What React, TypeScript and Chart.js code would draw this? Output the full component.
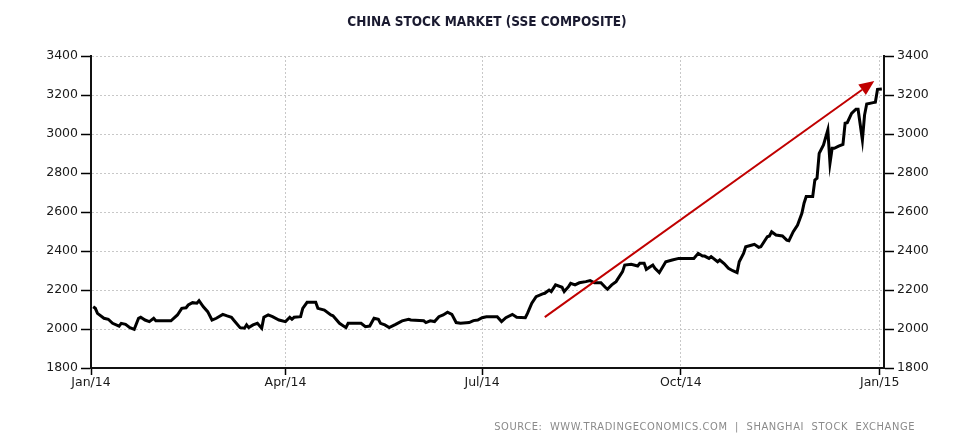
import { useEffect, useRef } from "react";
import { Chart, registerables } from "chart.js";

Chart.register(...registerables);

const TITLE = "CHINA STOCK MARKET (SSE COMPOSITE)";
const SOURCE = "SOURCE:  WWW.TRADINGECONOMICS.COM  |  SHANGHAI  STOCK  EXCHANGE";

// day of year 2014 (0 = Jan 1, 2014)
const tradeDays = [
  1, 2, 3, 6, 8, 10, 13, 14, 16, 18, 20, 22, 23, 25, 27, 29, 30, 32, 37, 40,
  42, 44, 45, 47, 49, 50, 52, 54, 56, 58, 61, 63, 65, 66, 69, 71, 72, 73, 75, 77,
  79, 80, 82, 84, 87, 90, 92, 93, 94, 97, 98, 100, 104, 105, 108, 111, 112, 115, 118, 119,
  125, 127, 129, 131, 133, 134, 136, 138, 141, 144, 147, 148, 154, 155, 157, 159, 161, 163, 165, 167,
  169, 171, 175, 177, 179, 181, 183, 188, 190, 192, 195, 197, 201, 202, 204, 206, 209, 210, 212, 213,
  215, 218, 219, 221, 222, 224, 226, 229, 231, 233, 236, 238, 239, 241, 243, 246, 247, 250, 253, 254,
  256, 257, 260, 261, 263, 266, 269, 272, 279, 281, 283, 284, 286, 287, 290, 291, 293, 295, 297, 299,
  300, 302, 303, 306, 307, 309, 310, 313, 314, 315, 317, 320, 322, 323, 325, 327, 329, 330, 331, 334,
  335, 336, 337, 339, 341, 342, 343, 344, 346, 348, 349, 350, 352, 354, 355, 357, 358, 359, 362, 363,
  364, 366,
];

const closeValues = [
  2114, 2106, 2080, 2055, 2050, 2029, 2015, 2029, 2024, 2007, 1998, 2055, 2060, 2046, 2038, 2055, 2042, 2042, 2042, 2072,
  2106, 2109, 2123, 2135, 2132, 2145, 2114, 2089, 2046, 2055, 2075, 2067, 2060, 2046, 2007, 2004, 2021, 2007, 2021, 2029,
  2004, 2060, 2072, 2063, 2046, 2038, 2060, 2050, 2060, 2063, 2106, 2137, 2137, 2106, 2097, 2072, 2068, 2029, 2007, 2029,
  2029, 2012, 2015, 2055, 2050, 2029, 2021, 2007, 2024, 2042, 2050, 2046, 2042, 2033, 2042, 2038, 2063, 2072, 2086, 2075,
  2033, 2029, 2033, 2043, 2046, 2058, 2063, 2063, 2038, 2058, 2075, 2060, 2058, 2080, 2132, 2166, 2180, 2183, 2200, 2192,
  2226, 2214, 2192, 2217, 2234, 2226, 2237, 2243, 2248, 2237, 2237, 2214, 2204, 2226, 2243, 2294, 2328, 2332, 2323, 2337,
  2337, 2306, 2328, 2311, 2289, 2345, 2354, 2362, 2362, 2388, 2374, 2374, 2362, 2371, 2345, 2354, 2336, 2311, 2299, 2289,
  2345, 2388, 2422, 2431, 2434, 2419, 2422, 2473, 2477, 2499, 2482, 2477, 2456, 2453, 2499, 2533, 2593, 2645, 2679, 2679,
  2764, 2773, 2901, 2944, 3021, 2850, 2927, 2927, 2938, 2947, 3055, 3058, 3106, 3127, 3127, 2969, 3097, 3154, 3161, 3163,
  3229, 3231,
];

const xTickDays = [0, 90, 181, 273, 365];
const xTickLabels = ["Jan/14", "Apr/14", "Jul/14", "Oct/14", "Jan/15"];
const yMin = 1800;
const yMax = 3400;
const yStep = 200;

// trend arrow, in data units (day, index value)
const arrowStart = { day: 210, value: 2061 };
const arrowEnd = { day: 362.5, value: 3272 };

const TICK_FONT = { family: "'DejaVu Sans', Verdana, sans-serif", size: 12.5 };
const plainNumber = (v: any) => String(v);

export default function App() {
  const canvasRef = useRef<HTMLCanvasElement | null>(null);

  useEffect(() => {
    document.body.style.margin = "0";
    const canvas = canvasRef.current;
    if (!canvas) return;

    const decorPlugin = {
      id: "decor",
      afterDraw(chart: any) {
        const ctx = chart.ctx;
        ctx.save();
        ctx.fillStyle = "#1a1a30";
        ctx.font = "bold 13.5px 'DejaVu Sans Condensed', 'Liberation Sans', sans-serif";
        ctx.textAlign = "center";
        ctx.textBaseline = "middle";
        ctx.fillText(TITLE, 487, 22);

        ctx.fillStyle = "#8a8a8a";
        ctx.font = "11px 'DejaVu Sans Condensed', 'Liberation Sans', sans-serif";
        (ctx as any).letterSpacing = "0.6px";
        ctx.textAlign = "right";
        ctx.fillText(SOURCE, 915, 427);
        ctx.restore();
      },
      afterDatasetsDraw(chart: any) {
        const { ctx, scales } = chart;
        const x1 = scales.x.getPixelForValue(arrowStart.day);
        const y1 = scales.y.getPixelForValue(arrowStart.value);
        const x2 = scales.x.getPixelForValue(arrowEnd.day);
        const y2 = scales.y.getPixelForValue(arrowEnd.value);
        const ang = Math.atan2(y2 - y1, x2 - x1);
        const headLen = 15;
        const headHalf = 6.5;
        const bx = x2 - headLen * Math.cos(ang);
        const by = y2 - headLen * Math.sin(ang);
        ctx.save();
        ctx.strokeStyle = "#c00000";
        ctx.fillStyle = "#c00000";
        ctx.lineWidth = 2;
        ctx.beginPath();
        ctx.moveTo(x1, y1);
        ctx.lineTo(bx, by);
        ctx.stroke();
        ctx.beginPath();
        ctx.moveTo(x2, y2);
        ctx.lineTo(bx + headHalf * Math.sin(ang), by - headHalf * Math.cos(ang));
        ctx.lineTo(bx - headHalf * Math.sin(ang), by + headHalf * Math.cos(ang));
        ctx.closePath();
        ctx.fill();
        ctx.restore();
      },
    };

    const points = tradeDays.map((d, i) => ({ x: d, y: closeValues[i] }));

    const chart = new Chart(canvas, {
      type: "line",
      data: {
        datasets: [
          {
            data: points,
            borderColor: "#000000",
            borderWidth: 3,
            pointRadius: 0,
            tension: 0,
            fill: false,
            yAxisID: "y",
          },
        ],
      },
      options: {
        animation: false,
        responsive: false,
        devicePixelRatio: 1,
        layout: { padding: { top: 56, left: 0, right: 0, bottom: 0 } },
        plugins: {
          legend: { display: false },
          tooltip: { enabled: false },
          title: { display: false },
        },
        scales: {
          x: {
            type: "linear",
            min: 0,
            max: 367,
            afterBuildTicks: (axis: any) => {
              axis.ticks = xTickDays.map((v) => ({ value: v }));
            },
            afterFit: (axis: any) => {
              axis.height = 79;
            },
            ticks: {
              autoSkip: false,
              maxRotation: 0,
              padding: 0,
              color: "#1a1a1a",
              font: TICK_FONT,
              callback: (v: any) => {
                const i = xTickDays.indexOf(Number(v));
                return i >= 0 ? xTickLabels[i] : "";
              },
            },
            grid: {
              color: "#c8c8c8",
              lineWidth: 1,
              tickColor: "#000000",
              tickLength: 7,
              tickWidth: 1.5,
            },
            border: { color: "#111111", width: 2, dash: [2, 2] },
          },
          y: {
            position: "left",
            min: yMin,
            max: yMax,
            afterFit: (axis: any) => {
              axis.width = 91;
            },
            ticks: {
              stepSize: yStep,
              padding: 3,
              color: "#1a1a1a",
              font: TICK_FONT,
              callback: plainNumber,
            },
            grid: {
              color: "#c8c8c8",
              lineWidth: 1,
              tickColor: "#000000",
              tickLength: 10,
              tickWidth: 1.5,
            },
            border: { color: "#111111", width: 2, dash: [2, 2] },
          },
          y2: {
            position: "right",
            min: yMin,
            max: yMax,
            afterFit: (axis: any) => {
              axis.width = 91;
            },
            ticks: {
              stepSize: yStep,
              padding: 3,
              color: "#1a1a1a",
              font: TICK_FONT,
              callback: plainNumber,
            },
            grid: {
              drawOnChartArea: false,
              tickColor: "#000000",
              tickLength: 10,
              tickWidth: 1.5,
            },
            border: { color: "#111111", width: 2 },
          },
        },
      },
      plugins: [decorPlugin],
    });

    return () => chart.destroy();
  }, []);

  return (
    <div style={{ width: 975, height: 447, background: "#ffffff" }}>
      <canvas ref={canvasRef} width={975} height={447} />
    </div>
  );
}
